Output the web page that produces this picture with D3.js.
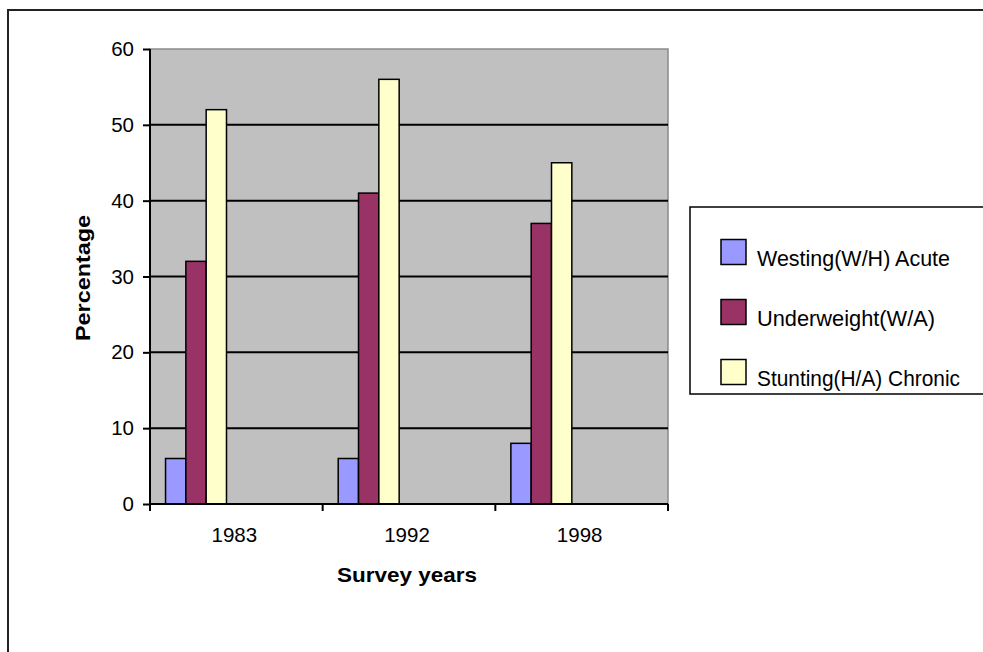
<!DOCTYPE html>
<html>
<head>
<meta charset="utf-8">
<style>
  body { margin: 0; background: #fff; }
  svg { display: block; font-family: "Liberation Sans", Arial, sans-serif; }
</style>
</head>
<body>
<div class="chart"></div>
<script src="https://d3js.org/d3.v7.min.js"></script>
<script>
  // survey data (percent of children)
  const years = ['1983', '1992', '1998'];
  const seriesNames = ['Westing(W/H) Acute', 'Underweight(W/A)', 'Stunting(H/A) Chronic'];
  const wasting = [6, 6, 8];
  const underweight = [32, 41, 37];
  const stunting = [52, 56, 45];
  const yTicks = [0, 10, 20, 30, 40, 50, 60];
  const colors = ['#9999ff', '#993366', '#ffffcc'];

  const width = 983, height = 652;
  const plot = { left: 150, right: 668, top: 49, bottom: 504 };
  // rendered widths of legend labels in the source picture
  const legendTextLen = [193, 178, 203];

  const svg = d3.select('.chart')
    .append('svg')
    .attr('width', width)
    .attr('height', height);

  // outer frame (runs off the right and bottom edge like the source)
  svg.append('rect')
    .attr('x', 8).attr('y', 10)
    .attr('width', 1000).attr('height', 700)
    .attr('fill', 'none')
    .attr('stroke', '#222')
    .attr('stroke-width', 2);

  const xScale = d3.scaleBand()
    .domain(years)
    .range([plot.left, plot.right]);

  const bw = xScale.bandwidth();
  const xInner = d3.scaleBand()
    .domain(seriesNames)
    .range([bw * 0.09, bw * 0.443]);

  const yScale = d3.scaleLinear()
    .domain([0, 60])
    .range([plot.bottom, plot.top]);

  // plot background
  svg.append('rect')
    .attr('x', plot.left).attr('y', plot.top)
    .attr('width', plot.right - plot.left)
    .attr('height', plot.bottom - plot.top)
    .attr('fill', '#c0c0c0')
    .attr('stroke', '#8a8a8a')
    .attr('stroke-width', 1.5);

  // gridlines
  svg.append('g')
    .selectAll('line')
    .data(yTicks.filter(d => d > 0 && d < 60))
    .join('line')
    .attr('x1', plot.left).attr('x2', plot.right)
    .attr('y1', d => yScale(d)).attr('y2', d => yScale(d))
    .attr('stroke', '#000')
    .attr('stroke-width', 2);

  // bars
  const rows = years.map((y, i) => ({ year: y, values: [wasting[i], underweight[i], stunting[i]] }));
  const groups = svg.append('g')
    .selectAll('g')
    .data(rows)
    .join('g')
    .attr('transform', d => `translate(${xScale(d.year)},0)`);

  groups.selectAll('rect')
    .data(d => d.values.map((v, k) => ({ key: seriesNames[k], value: v, k: k })))
    .join('rect')
    .attr('x', d => xInner(d.key))
    .attr('y', d => yScale(d.value))
    .attr('width', xInner.bandwidth())
    .attr('height', d => yScale(0) - yScale(d.value))
    .attr('fill', d => colors[d.k])
    .attr('stroke', '#000')
    .attr('stroke-width', 1.5);

  // y axis
  const yAxis = d3.axisLeft(yScale)
    .tickValues(yTicks)
    .tickSize(7)
    .tickPadding(9);
  const yAxisGroup = svg.append('g')
    .attr('transform', `translate(${plot.left},0)`)
    .call(yAxis);
  yAxisGroup.select('.domain').attr('stroke-width', 2).attr('d', `M0,${plot.top}V${plot.bottom}`);
  yAxisGroup.selectAll('line').attr('stroke-width', 2);
  yAxisGroup.selectAll('text')
    .attr('font-size', 20.5)
    .attr('font-family', '"Liberation Sans", Arial, sans-serif')
    .attr('fill', '#000');

  // x axis: ticks sit between categories
  const xAxisGroup = svg.append('g')
    .attr('transform', `translate(0,${plot.bottom})`);
  xAxisGroup.append('line')
    .attr('x1', plot.left).attr('x2', plot.right)
    .attr('stroke', '#000').attr('stroke-width', 2);
  const bounds = years.map(y => xScale(y)).concat([plot.right]);
  xAxisGroup.selectAll('.tk')
    .data(bounds)
    .join('line')
    .attr('class', 'tk')
    .attr('x1', d => d).attr('x2', d => d)
    .attr('y1', 0).attr('y2', 7)
    .attr('stroke', '#000').attr('stroke-width', 2);
  xAxisGroup.selectAll('.lbl')
    .data(years)
    .join('text')
    .attr('class', 'lbl')
    .attr('x', d => xScale(d) + bw / 2 - 2)
    .attr('y', 38)
    .attr('text-anchor', 'middle')
    .attr('font-size', 20.5)
    .text(d => d);

  // axis titles
  svg.append('text')
    .attr('x', 407).attr('y', 582)
    .attr('text-anchor', 'middle')
    .attr('font-size', 21)
    .attr('font-weight', 'bold')
    .attr('textLength', 140)
    .attr('lengthAdjust', 'spacingAndGlyphs')
    .text('Survey years');

  svg.append('text')
    .attr('transform', 'translate(90,278) rotate(-90)')
    .attr('text-anchor', 'middle')
    .attr('font-size', 21)
    .attr('font-weight', 'bold')
    .attr('textLength', 126)
    .attr('lengthAdjust', 'spacingAndGlyphs')
    .text('Percentage');

  // legend
  const legend = svg.append('g');
  legend.append('rect')
    .attr('x', 690).attr('y', 207)
    .attr('width', 320).attr('height', 187)
    .attr('fill', '#fff')
    .attr('stroke', '#000')
    .attr('stroke-width', 1.5);

  const items = legend.selectAll('g')
    .data(seriesNames)
    .join('g')
    .attr('transform', (d, i) => `translate(721,${239.5 + i * 60})`);
  items.append('rect')
    .attr('width', 25).attr('height', 25)
    .attr('fill', (d, i) => colors[i])
    .attr('stroke', '#000')
    .attr('stroke-width', 1.5);
  items.append('text')
    .attr('x', 36).attr('y', 26)
    .attr('font-size', 21.5)
    .attr('textLength', (d, i) => legendTextLen[i])
    .attr('lengthAdjust', 'spacingAndGlyphs')
    .text(d => d);
</script>
</body>
</html>
